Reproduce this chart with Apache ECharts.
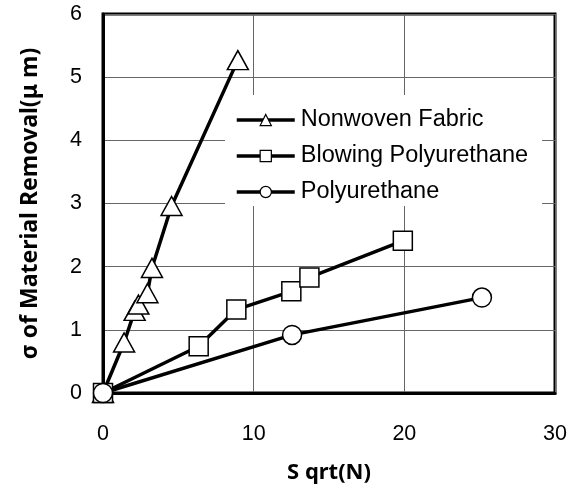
<!DOCTYPE html>
<html><head><meta charset="utf-8">
<script src="https://cdn.jsdelivr.net/npm/echarts@6/dist/echarts.min.js"></script>
<style>html,body{margin:0;padding:0;background:#fff}#c{width:576px;height:489px}</style>
</head><body><div id="c"></div>
<script>
const seriesNames = ["Nonwoven Fabric", "Blowing Polyurethane", "Polyurethane"];
const nonwovenX = [0, 1.4, 2.1, 2.35, 2.95, 3.25, 4.55, 8.95];
const nonwovenY = [0, 0.8, 1.3, 1.4, 1.58, 1.98, 2.96, 5.27];
const blowingX = [0, 6.35, 8.85, 12.5, 13.7, 19.9];
const blowingY = [0, 0.74, 1.32, 1.61, 1.83, 2.41];
const polyX = [0, 12.55, 25.15];
const polyY = [0, 0.92, 1.51];
const xTicks = [0, 10, 20, 30];
const yTicks = [0, 1, 2, 3, 4, 5, 6];

const pairs = (xs, ys) => xs.map((x, i) => [x, ys[i]]);
const symbols = ['triangle', 'rect', 'circle'];
const symSizes = [[21, 19], [19, 19], [19, 19]];
const datas = [pairs(nonwovenX, nonwovenY), pairs(blowingX, blowingY), pairs(polyX, polyY)];

const chart = echarts.init(document.getElementById('c'), null, {renderer: 'canvas'});
chart.setOption({
  animation: false,
  backgroundColor: '#fff',
  grid: {left: 103, right: 21, top: 14, bottom: 89, show: true, borderColor: '#000', borderWidth: 3, backgroundColor: 'transparent'},
  xAxis: {
    type: 'value', min: xTicks[0], max: xTicks[xTicks.length - 1], interval: 10,
    name: 'S qrt(N)', nameLocation: 'middle', nameGap: 69,
    nameTextStyle: {fontFamily: 'Noto Sans', fontWeight: 'bold', fontSize: 22, color: '#000'},
    axisLine: {show: true, lineStyle: {color: '#000', width: 3}},
    axisTick: {show: false},
    axisLabel: {margin: 30, fontFamily: 'Liberation Sans', fontSize: 21.5, color: '#000'},
    splitLine: {show: true, lineStyle: {color: '#666', width: 1}}
  },
  yAxis: {
    type: 'value', min: yTicks[0], max: yTicks[yTicks.length - 1], interval: 1,
    name: 'σ of Material Removal(μ m)', nameLocation: 'middle', nameGap: 61,
    nameTextStyle: {fontFamily: 'Noto Sans', fontWeight: 'bold', fontSize: 23, color: '#000'},
    axisLine: {show: true, lineStyle: {color: '#000', width: 3}},
    axisTick: {show: false},
    axisLabel: {margin: 21, fontFamily: 'Liberation Sans', fontSize: 21.5, color: '#000'},
    splitLine: {show: true, lineStyle: {color: '#666', width: 1}}
  },
  legend: {
    orient: 'vertical', left: 225, top: 95,
    backgroundColor: '#fff',
    padding: [13, 14, 2, 10],
    itemWidth: 58, itemHeight: 14, itemGap: 12,
    data: seriesNames,
    textStyle: {fontFamily: 'Liberation Sans', fontSize: 23.5, color: '#000', padding: [0, 0, 0, 1]},
    itemStyle: {color: '#fff', borderColor: '#000', borderWidth: 1.2},
    lineStyle: {color: '#000', width: 3.5}
  },
  series: datas.map((d, i) => ({
    name: seriesNames[i], type: 'line', data: d,
    symbol: symbols[i], symbolSize: symSizes[i], showAllSymbol: true,
    lineStyle: {color: '#000', width: 3.5},
    itemStyle: {color: '#fff', borderColor: '#000', borderWidth: 1.5},
    z: 10 + i
  }))
});
</script></body></html>
